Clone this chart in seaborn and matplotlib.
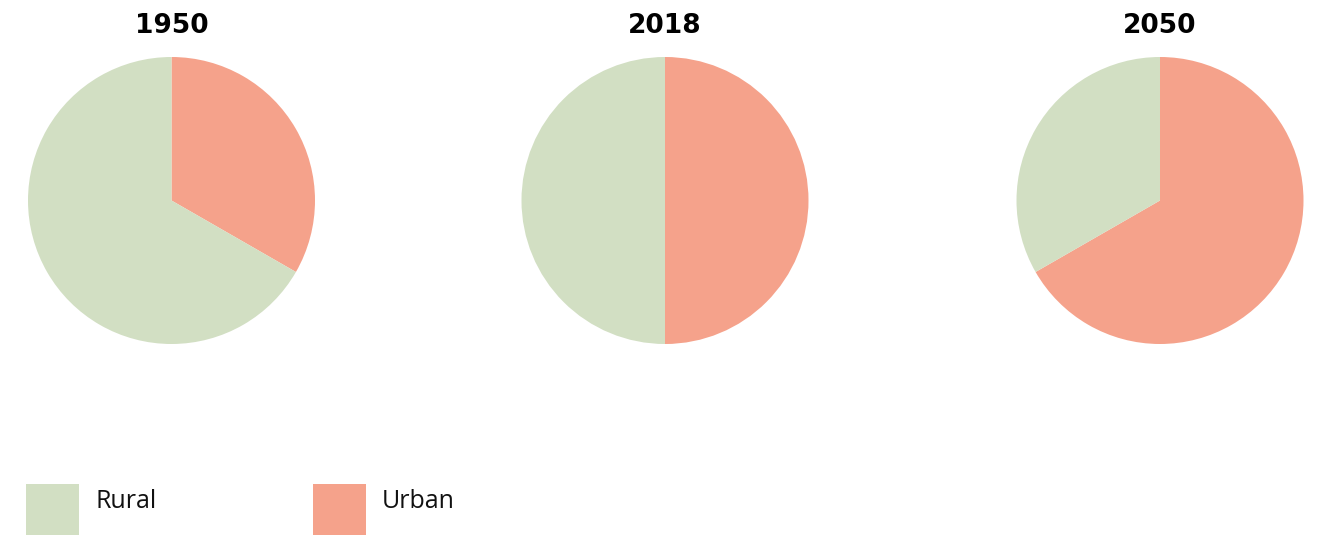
import matplotlib
matplotlib.use("Agg")
import matplotlib.pyplot as plt
from matplotlib.patches import Rectangle
import seaborn as sns

# Share of the world population living in urban vs rural areas
years = ["1950", "2018", "2050"]
urban_share = [33.3, 50.0, 66.7]
rural_share = [66.7, 50.0, 33.3]
categories = ["Rural", "Urban"]

sns.set_theme(style="white")
plt.rcParams["font.family"] = ["Open Sans", "DejaVu Sans"]
palette = {"Rural": "#D2DFC3", "Urban": "#F5A28B"}

W, H = 1319, 535
fig = plt.figure(figsize=(W / 100, H / 100), dpi=100)
fig.patch.set_facecolor("white")

centers_x = [171.5, 665.0, 1160.0]
center_y = 200.5
radius = 143.5

for year, cx, u, r in zip(years, centers_x, urban_share, rural_share):
    ax = fig.add_axes([(cx - radius) / W, (H - center_y - radius) / H,
                       2 * radius / W, 2 * radius / H])
    ax.pie([u, r], colors=[palette["Urban"], palette["Rural"]],
           startangle=90, counterclock=False, radius=1.0,
           wedgeprops=dict(linewidth=0, antialiased=True))
    ax.set_xlim(-1, 1)
    ax.set_ylim(-1, 1)
    ax.set_aspect("equal")
    ax.axis("off")
    fig.text(cx / W, 1 - 26 / H, year, ha="center", va="center",
             fontsize=19, fontweight="heavy", color="black",
             family=["DejaVu Sans"])

# Legend: colour swatches with labels
legend_items = [(categories[0], 26, 95), (categories[1], 313, 382)]
for label, x0, tx in legend_items:
    fig.patches.append(Rectangle((x0 / W, 0), 53 / W, (535 - 484) / H,
                                 transform=fig.transFigure,
                                 facecolor=palette[label], edgecolor="none"))
    fig.text(tx / W, 1 - 502 / H, label, ha="left", va="center",
             fontsize=18, color="#111111")

fig.savefig("out.png", dpi=100, facecolor="white")
